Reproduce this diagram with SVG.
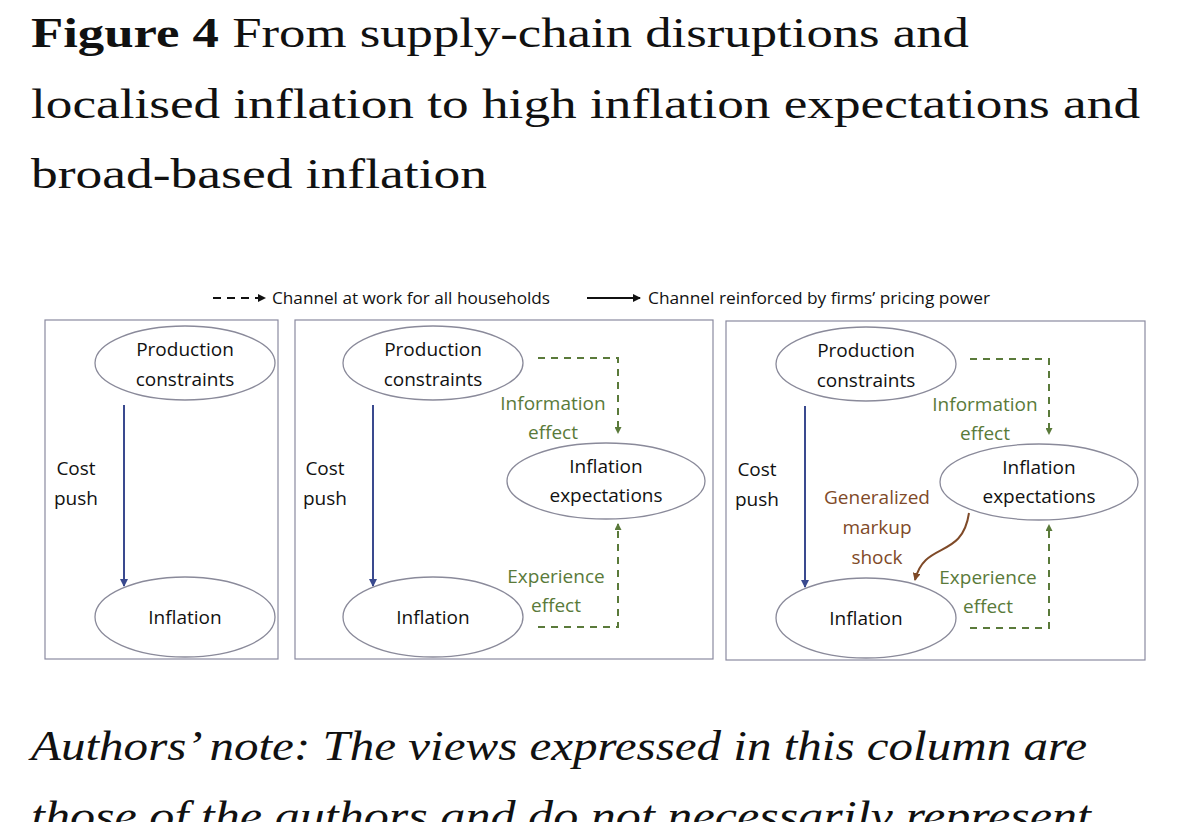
<svg xmlns="http://www.w3.org/2000/svg" width="1179" height="822" viewBox="0 0 1179 822">
<style>
.t{font-family:"Liberation Serif",serif;font-size:42px;fill:#111}
.n{font-family:"Open Sans","Liberation Sans",sans-serif;font-size:19px;fill:#111;text-anchor:middle}
.g{fill:#5a7a3a}
.b{fill:#7f4a28}
.l{font-family:"Open Sans","Liberation Sans",sans-serif;font-size:16px;fill:#111}
.panel{fill:#fff;stroke:#8a8aa0;stroke-width:1.2}
.el{fill:#fff;stroke:#8a8a9a;stroke-width:1.3}
.blue{stroke:#3a4a8f;stroke-width:2;fill:none}
.dash{stroke:#5a7a3a;stroke-width:2;fill:none;stroke-dasharray:7,6}
</style>
<defs>
<marker id="ab" markerWidth="8" markerHeight="8" refX="7" refY="4" orient="auto" markerUnits="userSpaceOnUse"><path d="M0,0 L8,4 L0,8z" fill="#3a4a8f"/></marker>
<marker id="ag" markerWidth="7" markerHeight="7" refX="6" refY="3.5" orient="auto" markerUnits="userSpaceOnUse"><path d="M0,0 L7,3.5 L0,7z" fill="#5a7a3a"/></marker>
<marker id="ar" markerWidth="8" markerHeight="8" refX="7" refY="4" orient="auto" markerUnits="userSpaceOnUse"><path d="M0,0 L8,4 L0,8z" fill="#7f4a28"/></marker>
<marker id="ak" markerWidth="8" markerHeight="8" refX="7" refY="4" orient="auto" markerUnits="userSpaceOnUse"><path d="M0,0 L8,4 L0,8z" fill="#111"/></marker>
</defs>
<rect width="1179" height="822" fill="#fff"/>
<text class="t" x="31" y="47" textLength="938" lengthAdjust="spacingAndGlyphs"><tspan font-weight="bold">Figure 4</tspan> From supply-chain disruptions and</text>
<text class="t" x="31" y="118" textLength="1109" lengthAdjust="spacingAndGlyphs">localised inflation to high inflation expectations and</text>
<text class="t" x="31" y="188" textLength="456" lengthAdjust="spacingAndGlyphs">broad-based inflation</text>

<g id="legend">
<line x1="213" y1="298" x2="265" y2="298" stroke="#111" stroke-width="2" stroke-dasharray="8,6" marker-end="url(#ak)"/>
<text class="l" x="272" y="304" textLength="278" lengthAdjust="spacingAndGlyphs">Channel at work for all households</text>
<line x1="587" y1="298" x2="640" y2="298" stroke="#111" stroke-width="2" marker-end="url(#ak)"/>
<text class="l" x="648" y="304" textLength="342" lengthAdjust="spacingAndGlyphs">Channel reinforced by firms’ pricing power</text>
</g>

<rect class="panel" x="45" y="320" width="233" height="339"/>
<rect class="panel" x="295" y="320" width="418" height="339"/>
<rect class="panel" x="726" y="321" width="419" height="339"/>

<g id="connectors">
<line class="blue" x1="124" y1="405" x2="124" y2="586" marker-end="url(#ab)"/>
<line class="blue" x1="373" y1="405" x2="373" y2="586" marker-end="url(#ab)"/>
<line class="blue" x1="805" y1="406" x2="805" y2="587" marker-end="url(#ab)"/>
<path class="dash" d="M538,358 H618 V433" marker-end="url(#ag)"/>
<path class="dash" d="M538,627 H618 V524" marker-end="url(#ag)"/>
<path class="dash" d="M970,359 H1049 V434" marker-end="url(#ag)"/>
<path class="dash" d="M970,628 H1049 V525" marker-end="url(#ag)"/>
<path d="M969,513 C962,560 925,540 915,580" stroke="#7f4a28" stroke-width="2" fill="none" marker-end="url(#ar)"/>
</g>

<g id="p1-production"><ellipse class="el" cx="185" cy="363" rx="90" ry="37"/><text class="n" x="185" y="356">Production</text><text class="n" x="185" y="386">constraints</text></g>
<g id="p1-inflation"><ellipse class="el" cx="185" cy="617" rx="90" ry="40"/><text class="n" x="185" y="624">Inflation</text></g>
<g id="p1-costpush"><text class="n" x="76" y="475">Cost</text><text class="n" x="76" y="505">push</text></g>

<g id="p2-production"><ellipse class="el" cx="433" cy="363" rx="90" ry="37"/><text class="n" x="433" y="356">Production</text><text class="n" x="433" y="386">constraints</text></g>
<g id="p2-inflation"><ellipse class="el" cx="433" cy="617" rx="90" ry="40"/><text class="n" x="433" y="624">Inflation</text></g>
<g id="p2-costpush"><text class="n" x="325" y="475">Cost</text><text class="n" x="325" y="505">push</text></g>
<g id="p2-expectations"><ellipse class="el" cx="606" cy="481" rx="99" ry="38"/><text class="n" x="606" y="473">Inflation</text><text class="n" x="606" y="502">expectations</text></g>
<g id="p2-info"><text class="n g" x="553" y="410">Information</text><text class="n g" x="553" y="439">effect</text></g>
<g id="p2-exp"><text class="n g" x="556" y="583">Experience</text><text class="n g" x="556" y="612">effect</text></g>

<g id="p3-production"><ellipse class="el" cx="866" cy="364" rx="90" ry="37"/><text class="n" x="866" y="357">Production</text><text class="n" x="866" y="387">constraints</text></g>
<g id="p3-inflation"><ellipse class="el" cx="866" cy="618" rx="90" ry="40"/><text class="n" x="866" y="625">Inflation</text></g>
<g id="p3-costpush"><text class="n" x="757" y="476">Cost</text><text class="n" x="757" y="506">push</text></g>
<g id="p3-expectations"><ellipse class="el" cx="1039" cy="482" rx="99" ry="38"/><text class="n" x="1039" y="474">Inflation</text><text class="n" x="1039" y="503">expectations</text></g>
<g id="p3-info"><text class="n g" x="985" y="411">Information</text><text class="n g" x="985" y="440">effect</text></g>
<g id="p3-exp"><text class="n g" x="988" y="584">Experience</text><text class="n g" x="988" y="613">effect</text></g>
<g id="p3-markup"><text class="n b" x="877" y="504">Generalized</text><text class="n b" x="877" y="534">markup</text><text class="n b" x="877" y="564">shock</text></g>

<text class="t" x="31" y="760" font-style="italic" textLength="1056" lengthAdjust="spacingAndGlyphs">Authors’ note: The views expressed in this column are</text>
<text class="t" x="31" y="830" font-style="italic" textLength="1060" lengthAdjust="spacingAndGlyphs">those of the authors and do not necessarily represent</text>
</svg>
